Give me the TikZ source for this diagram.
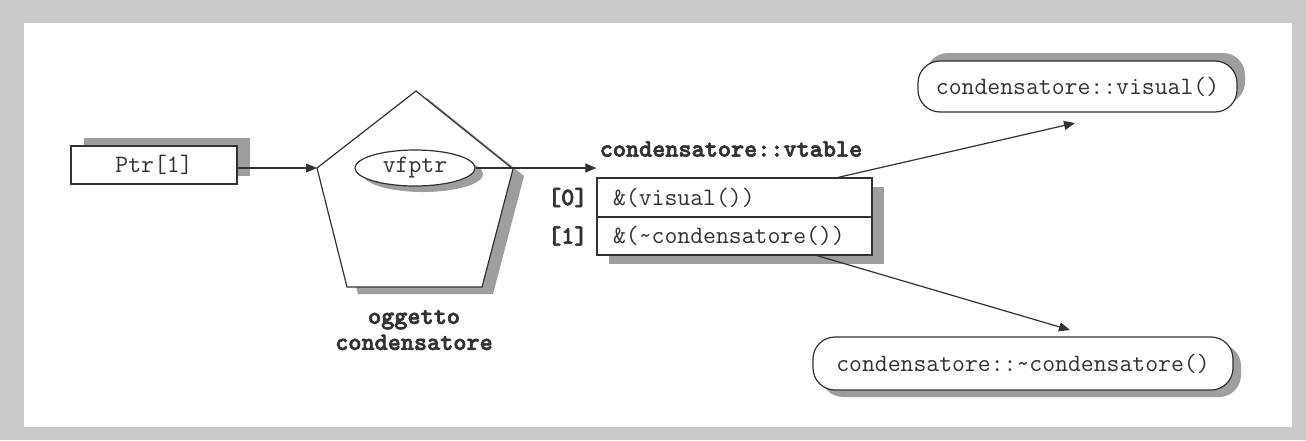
\documentclass[tikz,border=0pt]{standalone}
\usepackage{fontspec}
\newfontfamily\boldmono{lmmonolt10-bold.otf}[FakeBold=2.5]
\usetikzlibrary{arrows.meta,shapes.geometric,shadows}
\definecolor{framegray}{RGB}{202,202,202}
\definecolor{shadegray}{RGB}{158,158,158}
\definecolor{ink}{RGB}{50,50,50}

\begin{document}
\begin{tikzpicture}[x=1pt,y=-1pt,line width=1.2pt,
  font=\ttfamily\fontsize{25}{26}\selectfont,
  every node/.append style={text=ink},
  box/.style={draw=ink,fill=white,rectangle,inner sep=0pt},
  shade/.style 2 args={drop shadow={shadow xshift=#1,shadow yshift=#2,fill=shadegray,opacity=1}},
  arr/.style={draw=ink,-{Triangle[length=11pt,width=9pt]}},
  lbl/.style={font=\boldmono\fontsize{25}{26}\selectfont}]

% page and frame
\useasboundingbox (0,0) rectangle (1306,440);
\fill[framegray] (0,0) rectangle (1306,440);
\fill[white] (24,23) rectangle (1292,427);

% pointer
\node[box,minimum width=166pt,minimum height=38pt,shade={13pt}{8pt}] (ptr) at (154,165) {Ptr[1]};

% object (pentagon)
\coordinate (pt) at (416,91);
\coordinate (pr) at (513,169);
\coordinate (pbr) at (482,287);
\coordinate (pbl) at (347,287);
\coordinate (pl) at (317,168);
\fill[shadegray] ([shift={(11,7)}]pt) -- ([shift={(11,7)}]pr) -- ([shift={(11,7)}]pbr)
  -- ([shift={(11,7)}]pbl) -- ([shift={(11,7)}]pl) -- cycle;
\draw[ink,fill=white,line join=miter] (pt) -- (pr) -- (pbr) -- (pbl) -- (pl) -- cycle;
\node[ellipse,draw=ink,fill=white,minimum width=120pt,minimum height=36pt,inner sep=0pt,
  shade={8pt}{-6pt}] (vf) at (415,168) {vfptr};
\node[lbl,align=center] (obj) at (414,330) {oggetto\\condensatore};

% vtable
\node[lbl] (vt) at (731,149) {condensatore::vtable};
\node[box,minimum width=275pt,minimum height=39pt,text width=243pt,inner xsep=16pt,
  align=left,shade={12pt}{-9pt}] (r0) at (734.5,197.5) {\&(visual())};
\node[box,minimum width=275pt,minimum height=38pt,text width=243pt,inner xsep=16pt,
  align=left,shade={12pt}{-9pt}] (r1) at (734.5,236) {\&(\textasciitilde condensatore())};
\node[lbl,anchor=east] (i0) at ([xshift=-5pt]r0.west) {[0]};
\node[lbl,anchor=east] (i1) at ([xshift=-5pt]r1.west) {[1]};

% member functions
\node[box,rounded corners=22pt,minimum width=319pt,minimum height=51pt,
  shade={8pt}{8pt}] (fv) at (1077.5,86.5) {condensatore::visual()};
\node[box,rounded corners=22pt,minimum width=420pt,minimum height=53pt,
  shade={8pt}{-7pt}] (fd) at (1023,363.5) {condensatore::\textasciitilde condensatore()};

% connectors
\coordinate (s1) at ([xshift=103.5pt]r0.north);
\coordinate (s2) at ([xshift=82.5pt]r1.south);
\coordinate (e1) at (1075,123);
\coordinate (e2) at (1070,330);
\draw[arr] (ptr.east |- pl) -- (pl);
\draw[arr] (vf.east) -- (vf.east -| r0.west);
\draw[arr] (s1) -- (e1);
\draw[arr] (s2) -- (e2);
\end{tikzpicture}
\end{document}
